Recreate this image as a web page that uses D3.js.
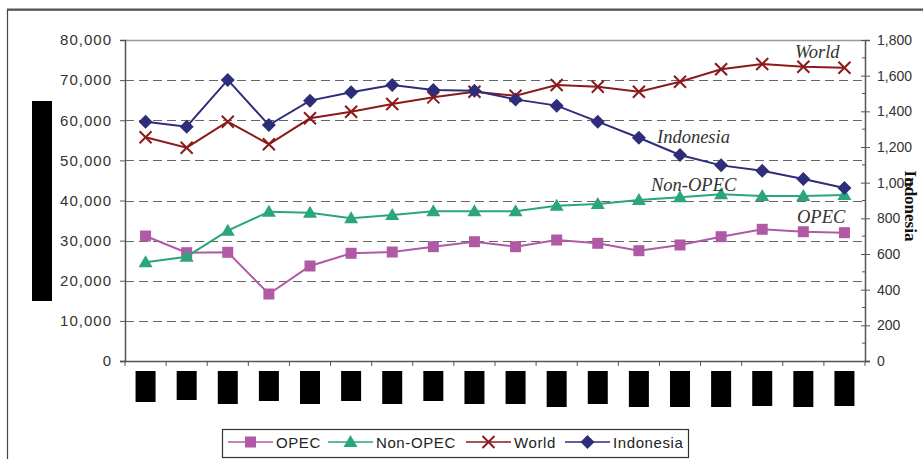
<!DOCTYPE html>
<html>
<head>
<meta charset="utf-8">
<script src="https://cdn.jsdelivr.net/npm/d3@7"></script>
<style>
  body { margin: 0; background: #fff; }
  svg { display: block; }
</style>
</head>
<body>
<div id="chart"></div>
<script>
// categories (tick labels are blacked out in the source picture)
const years = ["1990","1991","1992","1993","1994","1995","1996","1997","1998",
               "1999","2000","2001","2002","2003","2004","2005","2006","2007"];

// left axis series
const opec    = [31150, 26990, 27090, 16700, 23680, 26840, 27160, 28490, 29730,
                 28490, 30150, 29330, 27490, 28910, 30980, 32820, 32220, 31980];
const nonOpec = [24600, 26000, 32470, 37210, 36960, 35560, 36390, 37300, 37300,
                 37300, 38700, 39130, 40120, 40790, 41540, 41120, 41120, 41370];
const world   = [55750, 53160, 59640, 54000, 60480, 62130, 64050, 65710, 67110,
                 66110, 68780, 68360, 67110, 69600, 72690, 74010, 73340, 73090];
// right axis series
const indonesia = [1342, 1314, 1576, 1323, 1460, 1507, 1548, 1520, 1516,
                   1467, 1432, 1342, 1252, 1155, 1097, 1067, 1020, 970];

const leftTicks  = [0, 10000, 20000, 30000, 40000, 50000, 60000, 70000, 80000];
const rightTicks = [0, 200, 400, 600, 800, 1000, 1200, 1400, 1600, 1800];

const W = 923, H = 459;
const plot = {left: 125, right: 865, top: 40, bottom: 361};

const svg = d3.select("#chart").append("svg")
  .attr("width", W).attr("height", H);

// outer frame
svg.append("rect")
  .attr("x", 7.5).attr("y", 10).attr("width", 940).attr("height", 470)
  .attr("fill", "none").attr("stroke", "#444").attr("stroke-width", 1.2);
svg.append("line")
  .attr("x1", 7).attr("x2", W).attr("y1", 9.5).attr("y2", 9.5)
  .attr("stroke", "#555").attr("stroke-width", 2);

const x = d3.scaleBand().domain(years).range([plot.left, plot.right]);
const yL = d3.scaleLinear().domain([0, 80000]).range([plot.bottom, plot.top]);
const yR = d3.scaleLinear().domain([0, 1800]).range([plot.bottom, plot.top]);
const cx = d => x(d) + x.bandwidth() / 2;

// grid
svg.append("g").selectAll("line")
  .data(leftTicks.filter(t => t > 0 && t < 80000))
  .join("line")
  .attr("x1", plot.left).attr("x2", plot.right)
  .attr("y1", d => Math.round(yL(d)) + 0.5).attr("y2", d => Math.round(yL(d)) + 0.5)
  .attr("stroke", "#666").attr("stroke-width", 1.2)
  .attr("stroke-dasharray", "9,5");
svg.append("line")
  .attr("x1", plot.left).attr("x2", plot.right)
  .attr("y1", yL(80000) + 0.5).attr("y2", yL(80000) + 0.5)
  .attr("stroke", "#999").attr("stroke-width", 1.5);

// left axis
const axL = svg.append("g").attr("transform", `translate(${plot.left},0)`)
  .call(d3.axisLeft(yL).tickValues(leftTicks).tickFormat(d3.format(",")).tickSize(5).tickPadding(8));
axL.select(".domain").attr("stroke", "#555").attr("stroke-width", 1.5);
axL.selectAll(".tick line").attr("stroke", "#555");
axL.selectAll("text").attr("font-family", "Liberation Sans, Arial, sans-serif")
  .attr("font-size", 15).attr("fill", "#333").attr("letter-spacing", 1);

// right axis
const axR = svg.append("g").attr("transform", `translate(${plot.right},0)`)
  .call(d3.axisRight(yR).tickValues(rightTicks).tickFormat(d3.format(",")).tickSize(5).tickPadding(7));
axR.select(".domain").attr("stroke", "#555").attr("stroke-width", 1.5);
axR.selectAll(".tick line").attr("stroke", "#555").attr("x1", -4);
axR.selectAll("text").attr("font-family", "Liberation Sans, Arial, sans-serif")
  .attr("font-size", 14).attr("fill", "#333");
// minor ticks
axR.append("g").selectAll("line")
  .data(d3.range(100, 1800, 200))
  .join("line")
  .attr("x1", -3).attr("x2", 0)
  .attr("y1", d => yR(d)).attr("y2", d => yR(d))
  .attr("stroke", "#555");

// bottom axis
svg.append("line")
  .attr("x1", plot.left - 5).attr("x2", plot.right + 5)
  .attr("y1", plot.bottom + 0.5).attr("y2", plot.bottom + 0.5)
  .attr("stroke", "#555").attr("stroke-width", 1.5);
svg.append("g").selectAll("line")
  .data(years.concat(["end"]))
  .join("line")
  .attr("x1", (d, i) => plot.left + i * x.step()).attr("x2", (d, i) => plot.left + i * x.step())
  .attr("y1", plot.bottom).attr("y2", plot.bottom + 5)
  .attr("stroke", "#555");

// blacked-out category labels
const boxH = [31, 29, 33, 30, 33, 30, 33, 30, 33, 33, 36, 33, 36, 36, 36, 35, 36, 35];
svg.append("g").selectAll("rect")
  .data(years)
  .join("rect")
  .attr("x", d => cx(d) - 10).attr("y", 371)
  .attr("width", 20).attr("height", (d, i) => boxH[i])
  .attr("fill", "#000");
// blacked-out left axis title
svg.append("rect").attr("x", 32).attr("y", 101).attr("width", 20).attr("height", 200).attr("fill", "#000");

// right axis title
svg.append("text")
  .attr("transform", "translate(905,206) rotate(90)")
  .attr("text-anchor", "middle")
  .attr("font-family", "Liberation Serif, Times New Roman, serif")
  .attr("font-weight", "bold").attr("font-size", 17).attr("fill", "#111")
  .text("Indonesia");

const series = [
  {name: "OPEC", values: opec, scale: yL, color: "#B05AA5", marker: "square"},
  {name: "Non-OPEC", values: nonOpec, scale: yL, color: "#2BA57A", marker: "triangle"},
  {name: "World", values: world, scale: yL, color: "#8B1A1A", marker: "x"},
  {name: "Indonesia", values: indonesia, scale: yR, color: "#2E2D7A", marker: "diamond"}
];

function drawMarker(g, type, color) {
  if (type === "square") {
    g.append("rect").attr("x", -5.5).attr("y", -5.5).attr("width", 11).attr("height", 11).attr("fill", color);
  } else if (type === "triangle") {
    g.append("path").attr("d", "M0,-7 L7,5 L-7,5 Z").attr("fill", color);
  } else if (type === "diamond") {
    g.append("path").attr("d", "M0,-7 L7,0 L0,7 L-7,0 Z").attr("fill", color);
  } else {
    g.append("path").attr("d", "M-6,-6 L6,6 M6,-6 L-6,6")
      .attr("stroke", color).attr("stroke-width", 2).attr("fill", "none");
  }
}

series.forEach(s => {
  const line = d3.line().x((d, i) => cx(years[i])).y(d => s.scale(d));
  svg.append("path").datum(s.values)
    .attr("d", line).attr("fill", "none")
    .attr("stroke", s.color).attr("stroke-width", 2);
  svg.append("g").selectAll("g")
    .data(s.values)
    .join("g")
    .attr("transform", (d, i) => `translate(${cx(years[i])},${s.scale(d)})`)
    .each(function() { drawMarker(d3.select(this), s.marker, s.color); });
});

// series labels
const labels = [
  {text: "World", x: 795, y: 58},
  {text: "Indonesia", x: 657, y: 143},
  {text: "Non-OPEC", x: 651, y: 191},
  {text: "OPEC", x: 797, y: 223}
];
svg.append("g").selectAll("text")
  .data(labels)
  .join("text")
  .attr("x", d => d.x).attr("y", d => d.y)
  .attr("font-family", "Liberation Serif, Times New Roman, serif")
  .attr("font-style", "italic").attr("font-size", 18.5).attr("fill", "#333")
  .text(d => d.text);

// legend
const leg = svg.append("g");
leg.append("rect").attr("x", 222.5).attr("y", 429.5).attr("width", 466).attr("height", 28)
  .attr("fill", "#fff").attr("stroke", "#333").attr("stroke-width", 1.2);
const legX = [228, 328, 466, 565];
series.forEach((s, i) => {
  const g = leg.append("g").attr("transform", `translate(${legX[i]},442)`);
  g.append("line").attr("x1", 0).attr("x2", 45).attr("y1", 0).attr("y2", 0)
    .attr("stroke", s.color).attr("stroke-width", 1.5);
  drawMarker(g.append("g").attr("transform", "translate(22.5,0)"), s.marker, s.color);
  g.append("text").attr("x", 48).attr("y", 5.5)
    .attr("font-family", "Liberation Sans, Arial, sans-serif")
    .attr("font-size", 15).attr("letter-spacing", 0.6).attr("fill", "#222")
    .text(s.name);
});
</script>
</body>
</html>
